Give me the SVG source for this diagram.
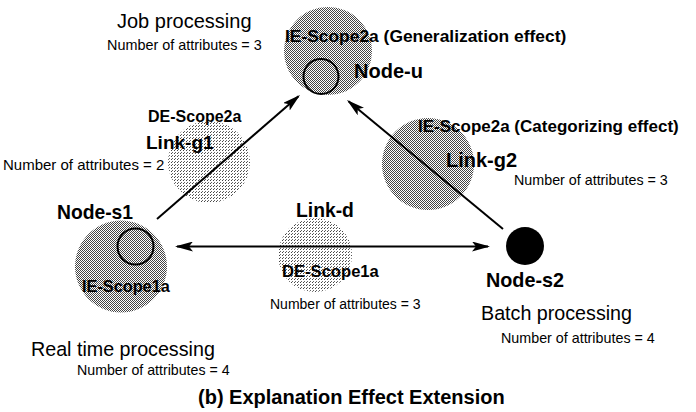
<svg xmlns="http://www.w3.org/2000/svg" width="696" height="412" viewBox="0 0 696 412">
<defs>
<pattern id="dk" width="2" height="2" patternUnits="userSpaceOnUse"><rect width="2" height="2" fill="#fff"/><rect width="1" height="1" fill="#444"/><rect x="1" y="1" width="1" height="1" fill="#444"/></pattern>
<pattern id="lt" width="3" height="3" patternUnits="userSpaceOnUse"><rect width="3" height="3" fill="#fff"/><rect width="1" height="1" fill="#444"/><rect x="1" y="2" width="1" height="1" fill="#666"/></pattern>
<marker id="ah" viewBox="0 0 18 10" refX="16" refY="5" markerWidth="18" markerHeight="10" markerUnits="userSpaceOnUse" orient="auto-start-reverse"><path d="M0,0 L18,5 L0,10 L4,5 z" fill="#000"/></marker>
</defs>
<style>
text{font-family:"Liberation Sans",Arial,sans-serif;fill:#000}
.b{font-weight:bold}
.dk{fill:url(#dk)}
.lt{fill:url(#lt)}
.ring{fill:none;stroke:#000;stroke-width:2}
.cn{stroke:#000;stroke-width:2;fill:none}
</style>
<rect width="696" height="412" fill="#fff"/>

<g id="node-u">
<circle class="dk" cx="328" cy="51" r="44"/>
<circle class="ring" cx="321" cy="76.5" r="17.5"/>
<text x="117" y="28" font-size="20">Job processing</text>
<text x="107" y="50" font-size="14.4">Number of attributes = 3</text>
<text class="b" x="285" y="42" font-size="17.4">IE-Scope2a (Generalization effect)</text>
<text class="b" x="354" y="78" font-size="20">Node-u</text>
</g>

<g id="link-g1">
<circle class="lt" cx="209" cy="162" r="41"/>
<text class="b" x="148" y="122" font-size="16">DE-Scope2a</text>
<text class="b" x="146" y="149" font-size="19">Link-g1</text>
<text x="3" y="170" font-size="15">Number of attributes = 2</text>
</g>

<g id="link-g2">
<circle class="dk" cx="428" cy="164" r="46"/>
<text class="b" x="418" y="132" font-size="17">IE-Scope2a (Categorizing effect)</text>
<text class="b" x="446" y="167" font-size="20">Link-g2</text>
<text x="514" y="185" font-size="14.3">Number of attributes = 3</text>
</g>

<g id="node-s1">
<circle class="dk" cx="121" cy="266.5" r="46"/>
<circle class="ring" cx="135.5" cy="246.5" r="18"/>
<text class="b" x="57" y="219" font-size="19.3">Node-s1</text>
<text class="b" x="82" y="292" font-size="16.3">IE-Scope1a</text>
<text x="31" y="356" font-size="19.7">Real time processing</text>
<text x="77" y="375" font-size="14.2">Number of attributes = 4</text>
</g>

<g id="link-d">
<circle class="lt" cx="315" cy="255" r="37"/>
<text class="b" x="296" y="217" font-size="19.3">Link-d</text>
<text class="b" x="282" y="277" font-size="16.6">DE-Scope1a</text>
<text x="270" y="309" font-size="14">Number of attributes = 3</text>
</g>

<g id="node-s2">
<circle cx="525" cy="246" r="19" fill="#000"/>
<text class="b" x="486" y="287" font-size="19.8">Node-s2</text>
<text x="481" y="320" font-size="19.7">Batch processing</text>
<text x="501" y="343" font-size="14.3">Number of attributes = 4</text>
</g>

<g id="connectors">
<line class="cn" x1="157" y1="219" x2="298.5" y2="96.3" marker-end="url(#ah)"/>
<line class="cn" x1="503" y1="229" x2="348.5" y2="101.3" marker-end="url(#ah)"/>
<line class="cn" x1="177" y1="246.5" x2="488" y2="246.5" marker-start="url(#ah)" marker-end="url(#ah)"/>
</g>

<text class="b" x="198" y="404" font-size="20">(b) Explanation Effect Extension</text>
</svg>
